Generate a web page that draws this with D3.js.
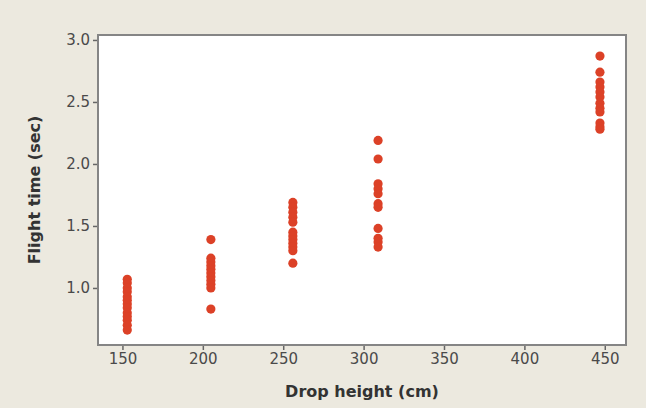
<!DOCTYPE html>
<html>
<head>
<meta charset="utf-8">
<script src="https://cdn.jsdelivr.net/npm/d3@7"></script>
<style>
  body { margin: 0; background: #ece9df; }
  svg { display: block; }
  text { font-family: "DejaVu Sans", Verdana, sans-serif; }
</style>
</head>
<body>
<div id="chart"></div>
<script>
const width = 646;
const height = 408;

// drop heights (cm) and flight times (sec)
const heights = [153, 205, 256, 309, 447];
const times150 = [1.07, 1.04, 1.00, 0.97, 0.93, 0.90, 0.87, 0.84, 0.80, 0.77, 0.74, 0.70, 0.66];
const times200 = [1.39, 1.24, 1.21, 1.18, 1.15, 1.12, 1.09, 1.06, 1.03, 1.00, 0.83];
const times250 = [1.69, 1.65, 1.61, 1.57, 1.53, 1.45, 1.42, 1.39, 1.36, 1.33, 1.30, 1.20];
const times300 = [2.19, 2.04, 1.84, 1.80, 1.76, 1.68, 1.65, 1.48, 1.40, 1.37, 1.33];
const times450 = [2.87, 2.74, 2.66, 2.62, 2.58, 2.54, 2.49, 2.45, 2.42, 2.33, 2.30, 2.28];
const xTicks = [150, 200, 250, 300, 350, 400, 450];
const yTicks = [1.0, 1.5, 2.0, 2.5, 3.0];

const groups = [times150, times200, times250, times300, times450];
const points = [];
groups.forEach((g, i) => g.forEach(t => points.push({ h: heights[i], t: t })));

const plotLeft = 98, plotRight = 626, plotTop = 35, plotBottom = 345;

const x = d3.scaleLinear().domain([134.8, 463.2]).range([plotLeft, plotRight]);
const y = d3.scaleLinear().domain([0.54, 3.04]).range([plotBottom, plotTop]);

const svg = d3.select("#chart").append("svg")
    .attr("width", width)
    .attr("height", height);

svg.append("rect")
    .attr("x", plotLeft).attr("y", plotTop)
    .attr("width", plotRight - plotLeft).attr("height", plotBottom - plotTop)
    .attr("fill", "#fff")
    .attr("stroke", "#858585")
    .attr("stroke-width", 2);

const xAxis = svg.append("g")
    .attr("transform", `translate(0,${plotBottom + 1})`)
    .call(d3.axisBottom(x).tickValues(xTicks).tickFormat(d3.format("d")).tickSize(4).tickPadding(3));

const yAxis = svg.append("g")
    .attr("transform", `translate(${plotLeft - 1},0)`)
    .call(d3.axisLeft(y).tickValues(yTicks).tickFormat(d3.format(".1f")).tickSize(4).tickPadding(3));

[xAxis, yAxis].forEach(a => {
    a.select(".domain").remove();
    a.selectAll(".tick line").attr("stroke", "#666").attr("stroke-width", 1.5);
    a.selectAll(".tick text")
        .attr("fill", "#4a4a4a")
        .style("font-size", "15px")
        .style("font-family", "'DejaVu Sans', Verdana, sans-serif");
});

svg.append("g")
    .selectAll("circle")
    .data(points)
    .join("circle")
    .attr("cx", d => x(d.h))
    .attr("cy", d => y(d.t))
    .attr("r", 4.6)
    .attr("fill", "#dc4127");

svg.append("text")
    .attr("x", (plotLeft + plotRight) / 2)
    .attr("y", 397)
    .attr("text-anchor", "middle")
    .attr("fill", "#333")
    .style("font-size", "16px")
    .style("font-weight", "bold")
    .text("Drop height (cm)");

svg.append("text")
    .attr("transform", `translate(40,${(plotTop + plotBottom) / 2}) rotate(-90)`)
    .attr("text-anchor", "middle")
    .attr("fill", "#333")
    .style("font-size", "16px")
    .style("font-weight", "bold")
    .text("Flight time (sec)");
</script>
</body>
</html>
